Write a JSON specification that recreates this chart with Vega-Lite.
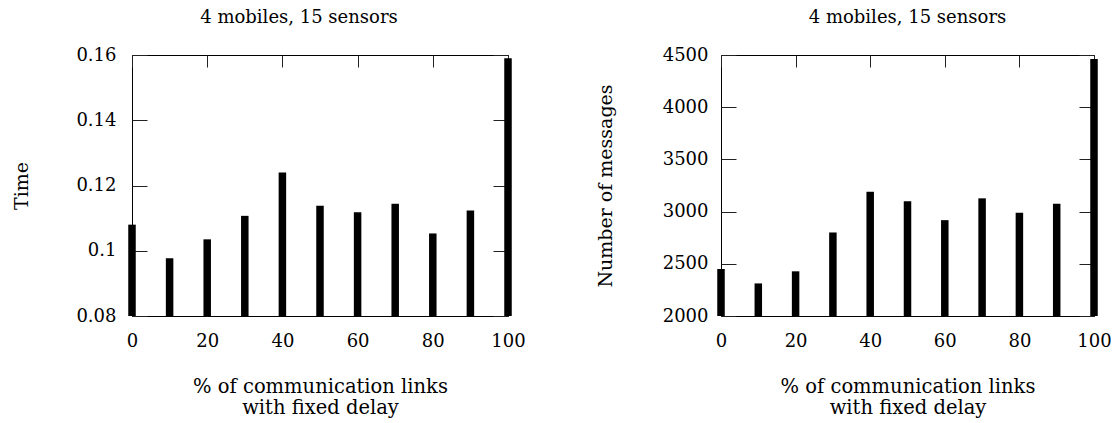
{
  "$schema": "https://vega.github.io/schema/vega-lite/v6.json",
  "background": "white",
  "padding": {"left": 12, "top": 8, "right": 5, "bottom": 5},
  "datasets": {
    "runs": [
      {"pct": 0, "time": 0.108, "messages": 2450},
      {"pct": 10, "time": 0.0977, "messages": 2312},
      {"pct": 20, "time": 0.1035, "messages": 2428},
      {"pct": 30, "time": 0.1107, "messages": 2800},
      {"pct": 40, "time": 0.124, "messages": 3190},
      {"pct": 50, "time": 0.1138, "messages": 3100},
      {"pct": 60, "time": 0.1118, "messages": 2918},
      {"pct": 70, "time": 0.1144, "messages": 3127},
      {"pct": 80, "time": 0.1053, "messages": 2990},
      {"pct": 90, "time": 0.1123, "messages": 3076},
      {"pct": 100, "time": 0.159, "messages": 4462}
    ]
  },
  "config": {
    "font": "DejaVu Serif",
    "view": {"stroke": "black", "strokeWidth": 1},
    "axis": {
      "domain": false,
      "grid": false,
      "tickColor": "#222",
      "tickWidth": 1,
      "labelFont": "DejaVu Serif",
      "labelFontSize": 18,
      "labelColor": "black",
      "labelFlush": false,
      "titleFont": "DejaVu Serif",
      "titleFontSize": 19,
      "titleFontWeight": "normal",
      "titleColor": "black"
    },
    "axisX": {"tickSize": -12},
    "axisY": {"tickSize": -15},
    "title": {
      "font": "DejaVu Serif",
      "fontSize": 18,
      "fontWeight": "normal",
      "color": "black",
      "frame": "group",
      "anchor": "middle",
      "offset": 19
    }
  },
  "spacing": 69,
  "hconcat": [
    {
      "title": {"text": "4 mobiles, 15 sensors", "dx": -21},
      "width": 376,
      "height": 261,
      "data": {"name": "runs"},
      "layer": [
        {
          "mark": {"type": "rule", "strokeWidth": 7.5, "color": "black"},
          "encoding": {
            "x": {
              "field": "pct", "type": "quantitative",
              "scale": {"domain": [0, 100], "nice": false},
              "axis": {
                "orient": "bottom",
                "values": [0, 20, 40, 60, 80, 100],
                "labelPadding": 28,
                "title": ["% of communication links", "with fixed delay"],
                "titleFontSize": 19.5,
                "titleLineHeight": 21,
                "titlePadding": 27
              }
            },
            "y": {
              "field": "time", "type": "quantitative",
              "scale": {"domain": [0.08, 0.16], "nice": false, "zero": false},
              "axis": {
                "orient": "left",
                "values": [0.08, 0.1, 0.12, 0.14, 0.16],
                "format": "~g",
                "labelPadding": 31,
                "title": "Time",
                "titlePadding": 44
              }
            },
            "y2": {"datum": 0.08}
          }
        },
        {
          "mark": {"type": "rule", "strokeWidth": 7.5, "opacity": 0},
          "encoding": {
            "x": {
              "field": "pct", "type": "quantitative",
              "axis": {"orient": "top", "values": [0, 20, 40, 60, 80, 100], "labels": false, "title": null}
            },
            "y": {
              "field": "time", "type": "quantitative",
              "axis": {"orient": "right", "values": [0.08, 0.1, 0.12, 0.14, 0.16], "labels": false, "title": null}
            },
            "y2": {"datum": 0.08}
          }
        }
      ],
      "resolve": {"axis": {"x": "independent", "y": "independent"}}
    },
    {
      "title": "4 mobiles, 15 sensors",
      "width": 373,
      "height": 261,
      "data": {"name": "runs"},
      "layer": [
        {
          "mark": {"type": "rule", "strokeWidth": 7.5, "color": "black"},
          "encoding": {
            "x": {
              "field": "pct", "type": "quantitative",
              "scale": {"domain": [0, 100], "nice": false},
              "axis": {
                "orient": "bottom",
                "values": [0, 20, 40, 60, 80, 100],
                "labelPadding": 28,
                "title": ["% of communication links", "with fixed delay"],
                "titleFontSize": 19.5,
                "titleLineHeight": 21,
                "titlePadding": 27
              }
            },
            "y": {
              "field": "messages", "type": "quantitative",
              "scale": {"domain": [2000, 4500], "nice": false, "zero": false},
              "axis": {
                "orient": "left",
                "values": [2000, 2500, 3000, 3500, 4000, 4500],
                "format": "d",
                "labelPadding": 28,
                "title": "Number of messages",
                "titlePadding": 47
              }
            },
            "y2": {"datum": 2000}
          }
        },
        {
          "mark": {"type": "rule", "strokeWidth": 7.5, "opacity": 0},
          "encoding": {
            "x": {
              "field": "pct", "type": "quantitative",
              "axis": {"orient": "top", "values": [0, 20, 40, 60, 80, 100], "labels": false, "title": null}
            },
            "y": {
              "field": "messages", "type": "quantitative",
              "axis": {"orient": "right", "values": [2000, 2500, 3000, 3500, 4000, 4500], "labels": false, "title": null}
            },
            "y2": {"datum": 2000}
          }
        }
      ],
      "resolve": {"axis": {"x": "independent", "y": "independent"}}
    }
  ]
}
